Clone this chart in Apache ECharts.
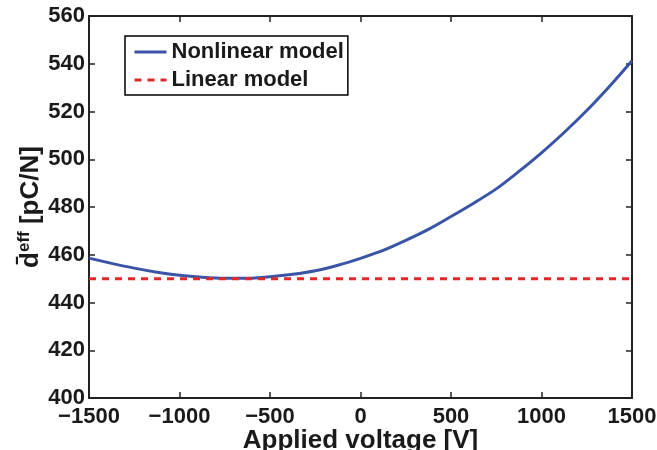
<!DOCTYPE html>
<html>
<head>
<meta charset="utf-8">
<script src="https://cdn.jsdelivr.net/npm/echarts@6/dist/echarts.min.js"></script>
<style>
  html, body { margin: 0; padding: 0; background: #fff; }
  #chart { width: 657px; height: 450px; }
</style>
</head>
<body>
<div id="chart"></div>
<script>
// values
const voltage = [-1500, -1375, -1250, -1125, -1000, -875, -750, -625, -500, -375, -250, -125,
  0, 125, 250, 375, 500, 625, 750, 875, 1000, 1125, 1250, 1375, 1500];
const nonlinearD = [458.6, 456.4, 454.4, 452.7, 451.4, 450.6, 450.2, 450.2, 450.8, 451.8, 453.3, 455.6,
  458.5, 461.8, 466.0, 470.6, 476.0, 481.6, 487.6, 494.9, 502.7, 511.2, 520.4, 530.5, 541.3];
const linearV = [-1500, 1500];
const linearD = [450, 450];

const xTicks = { min: -1500, max: 1500, interval: 500 };
const yTicks = { min: 400, max: 560, interval: 20 };

const font = "Liberation Sans, Arial, sans-serif";
const axisColor = "#222";
const textColor = "#1a1a1a";

const chart = echarts.init(document.getElementById("chart"), null, { renderer: "canvas" });

function boxAxis(extra) {
  return Object.assign({
    type: "value",
    axisLine: { show: true, onZero: false, lineStyle: { color: axisColor, width: 2 } },
    axisTick: { show: true, inside: true, length: 6, lineStyle: { color: axisColor, width: 1.5 } },
    splitLine: { show: false }
  }, extra);
}

const option = {
  animation: false,
  backgroundColor: "#fff",
  grid: { left: 89, right: 25, top: 16, bottom: 52, containLabel: false, outerBoundsMode: "none" },
  legend: {
    orient: "vertical",
    left: 125,
    top: 36,
    padding: [5, 4, 4, 8],
    itemGap: 6,
    itemWidth: 32,
    itemHeight: 14,
    borderColor: "#000",
    borderWidth: 1.5,
    backgroundColor: "#fff",
    itemStyle: { opacity: 0 },
    lineStyle: { width: 3 },
    textStyle: { fontFamily: font, fontWeight: "bold", fontSize: 22, color: textColor },
    data: ["Nonlinear model", "Linear model"]
  },
  xAxis: [
    boxAxis(Object.assign({
      position: "bottom",
      name: "Applied voltage [V]",
      nameLocation: "middle",
      nameGap: 30,
      nameMoveOverlap: false,
      nameTextStyle: { fontFamily: font, fontWeight: "bold", fontSize: 26, color: textColor },
      axisLabel: {
        fontFamily: font, fontWeight: "bold", fontSize: 22, color: textColor, margin: 8,
        formatter: v => (v < 0 ? "\u2212" + Math.abs(v) : String(v))
      }
    }, xTicks)),
    boxAxis(Object.assign({ position: "top", axisLabel: { show: false } }, xTicks))
  ],
  yAxis: [
    boxAxis(Object.assign({
      position: "left",
      name: "{d|d\u0304}{s|eff}{t| [pC/N]}",
      nameLocation: "middle",
      nameGap: 44,
      nameMoveOverlap: false,
      nameRotate: 90,
      nameTextStyle: {
        fontFamily: font, fontWeight: "bold", fontSize: 26, color: textColor,
        rich: {
          d: { fontFamily: font, fontWeight: "bold", fontSize: 26, color: textColor },
          s: { fontFamily: font, fontWeight: "bold", fontSize: 17, color: textColor, verticalAlign: "top", padding: [0, 0, 12, 0] },
          t: { fontFamily: font, fontWeight: "bold", fontSize: 26, color: textColor }
        }
      },
      axisLabel: { fontFamily: font, fontWeight: "bold", fontSize: 22, color: textColor, margin: 4 }
    }, yTicks)),
    boxAxis(Object.assign({ position: "right", axisLabel: { show: false } }, yTicks))
  ],
  series: [
    {
      name: "Nonlinear model",
      type: "line",
      smooth: 0.3,
      symbol: "none",
      data: voltage.map((v, i) => [v, nonlinearD[i]]),
      lineStyle: { color: "#3a55a8", width: 3 },
      itemStyle: { color: "#3a55a8" },
      z: 3
    },
    {
      name: "Linear model",
      type: "line",
      symbol: "none",
      data: linearV.map((v, i) => [v, linearD[i]]),
      lineStyle: { color: "#e02a2a", width: 3, type: [7, 6] },
      itemStyle: { color: "#e02a2a" },
      z: 4
    }
  ]
};

chart.setOption(option);
</script>
</body>
</html>
